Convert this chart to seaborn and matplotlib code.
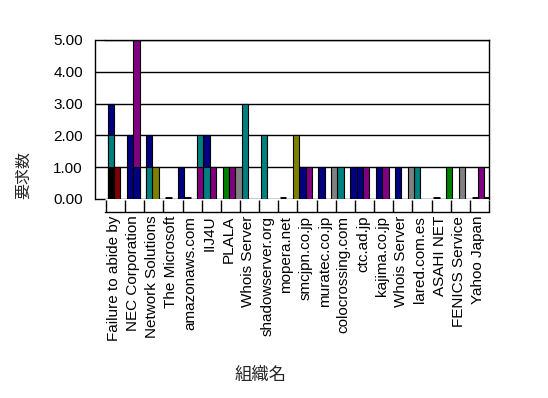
import matplotlib
matplotlib.use("Agg")
import matplotlib.pyplot as plt
import numpy as np
import pandas as pd
import seaborn as sns

sns.set_theme(style="white")
plt.rcParams["font.family"] = ["Liberation Sans", "Noto Sans CJK JP"]

categories = [
    "Failure to abide by", "NEC Corporation", "Network Solutions",
    "The Microsoft", "amazonaws.com", "IIJ4U", "PLALA", "Whois Server",
    "shadowserver.org", "mopera.net", "smcjpn.co.jp", "muratec.co.jp",
    "colocrossing.com", "ctc.ad.jp", "kajima.co.jp", "Whois Server",
    "lared.com.es", "ASAHI NET", "FENICS Service", "Yahoo Japan",
]

# bars: (category index, column in cluster, value, series)
# back row first, front row last
back_bars = [
    (0, "a", 3, "navy"), (0, "b", 1, "maroon"),
    (1, "a", 2, "navy"), (1, "b", 5, "purple"),
    (2, "a", 2, "navy"), (2, "b", 1, "olive"),
    (3, "a", 0, "black"), (3, "c", 1, "navy"),
    (4, "a", 0, "black"), (4, "c", 2, "teal"),
    (5, "a", 2, "navy"), (5, "b", 1, "purple"),
    (6, "a", 1, "green"), (6, "b", 1, "purple"), (6, "c", 1, "gray"),
    (7, "a", 3, "teal"),
    (8, "a", 2, "teal"),
    (9, "a", 0, "black"), (9, "c", 2, "olive"),
    (10, "a", 1, "navy"), (10, "b", 1, "purple"),
    (11, "a", 1, "navy"), (11, "c", 1, "gray"),
    (12, "a", 1, "teal"), (12, "c", 1, "navy"),
    (13, "a", 1, "navy"), (13, "b", 1, "purple"),
    (14, "a", 1, "navy"), (14, "b", 1, "purple"),
    (15, "a", 1, "navy"), (15, "c", 1, "gray"),
    (16, "a", 1, "teal"),
    (17, "a", 0, "black"), (17, "c", 1, "green"),
    (18, "b", 1, "gray"),
    (19, "a", 0, "black"), (19, "b", 1, "purple"), (19, "c", 0, "black"),
]
middle_bars = [
    (0, "a", 2, "teal"),
    (1, "b", 1, "navy"),
    (2, "a", 1, "teal"),
    (4, "c", 1, "purple"),
    (5, "a", 1, "teal"),
]
front_bars = [
    (0, "a", 1, "black"),
]

palette = {
    "navy": "#000080", "teal": "#008080", "maroon": "#800000",
    "olive": "#808000", "purple": "#800080", "green": "#008000",
    "gray": "#808080", "black": "#000000",
}
columns = ["a", "b", "c"]


def draw_row(ax, bars):
    df = pd.DataFrame(bars, columns=["cat", "col", "value", "series"])
    lookup = {(r.cat, columns.index(r.col)): r.series for r in df.itertuples()}
    start = len(ax.patches)
    sns.barplot(data=df, x="cat", y="value", hue="col", hue_order=columns,
                order=list(range(len(categories))), dodge=True, width=1.0,
                gap=0, errorbar=None, legend=False, ax=ax,
                palette=["#000000"] * 3, edgecolor="black", linewidth=0.8,
                saturation=1)
    # colour each bar by its series
    for p in ax.patches[start:]:
        xc = p.get_x() + p.get_width() / 2
        cat = int(round(xc))
        col = int(round((xc - cat) * 3)) + 1
        p.set_facecolor(palette[lookup[(cat, col)]])
        if p.get_height() == 0:
            p.set_linewidth(3.5)


def main():
    fig = plt.figure(figsize=(5.48, 3.98), dpi=100)
    ax = fig.add_axes([0.1916, 0.5, 0.7007, 0.3995])

    for bars in (back_bars, middle_bars, front_bars):
        draw_row(ax, bars)

    n = len(categories)
    ax.set_ylim(0, 5)
    ax.set_xlim(-0.64, n - 0.59)
    ax.set_yticks(np.arange(0, 6))
    ax.set_yticklabels([f"{v:.2f}" for v in range(6)], fontsize=11)
    ax.set_xticks(np.arange(n) - 0.17)
    ax.set_xticklabels(categories, fontsize=12.5)
    ax.set_xticks(np.arange(n + 1) - 0.59, minor=True)
    ax.yaxis.grid(True, color="black", linewidth=1)
    ax.set_axisbelow(True)

    for side in ("left", "bottom", "top", "right"):
        ax.spines[side].set_visible(True)
        ax.spines[side].set_color("black")
        ax.spines[side].set_linewidth(1)
    ax.spines["left"].set_position(("outward", 7))
    ax.spines["bottom"].set_position(("outward", 9))

    ax.tick_params(axis="x", which="major", length=0, pad=3, colors="black",
                   labelrotation=90)
    ax.tick_params(axis="x", which="minor", length=9, direction="in",
                   width=1, color="black", bottom=True)
    ax.tick_params(axis="y", length=7, direction="in", width=1, pad=9,
                   left=True, colors="black")

    ax.set_xlabel("組織名", fontsize=12.5)
    ax.xaxis.set_label_coords(0.406, -1.057)
    ax.set_ylabel("要求数", fontsize=11.5)
    ax.yaxis.set_label_coords(-0.193, 0.154)

    fig.savefig("out.png", dpi=100)


if __name__ == "__main__":
    main()
